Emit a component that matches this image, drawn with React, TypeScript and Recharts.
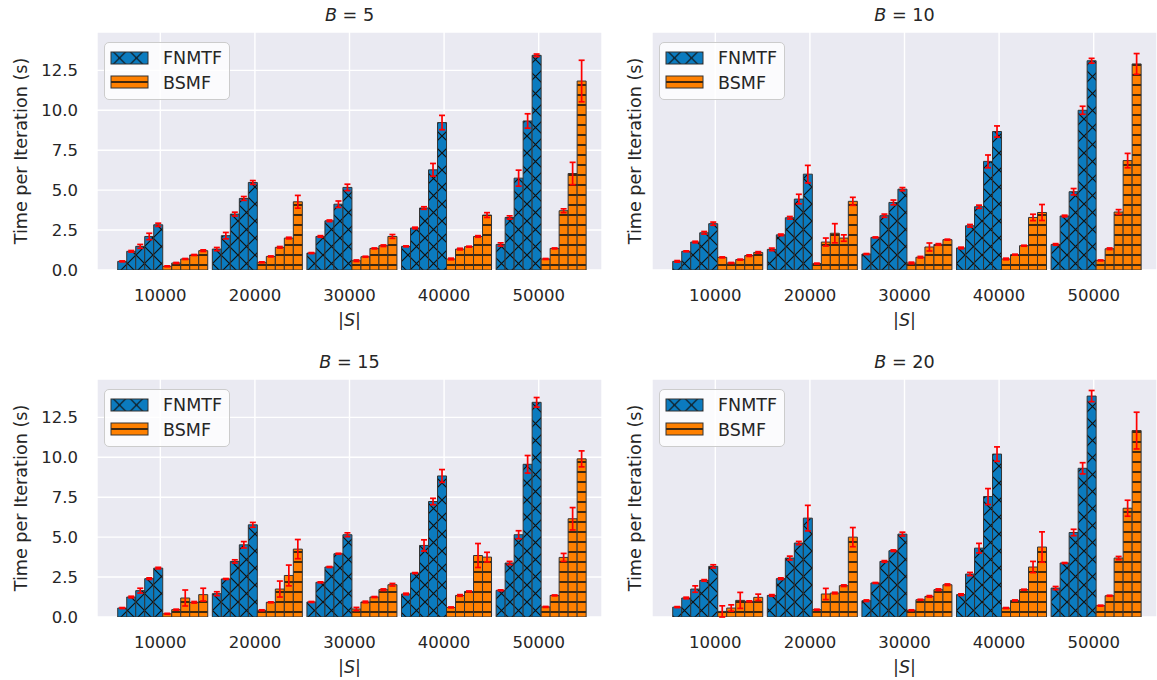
import React from "react";
import {
  BarChart,
  Bar,
  XAxis,
  YAxis,
  CartesianGrid,
  ErrorBar,
  Legend,
} from "recharts";

const FONT = "DejaVu Sans";
const INK = "#262626";
const BLUE = "#0b7bbf";
const ORANGE = "#ff8000";

const sizes = ["10000", "20000", "30000", "40000", "50000"];
const yTicks = [0, 2.5, 5, 7.5, 10, 12.5];

// one row per |S| group, five bars per method
const fnmtfB5 = [
  [0.54, 1.17, 1.48, 2.1, 2.83],
  [1.31, 2.15, 3.5, 4.48, 5.48],
  [1.06, 2.1, 3.08, 4.12, 5.17],
  [1.48, 2.63, 3.88, 6.27, 9.23],
  [1.6, 3.29, 5.75, 9.33, 13.44],
];
const fnmtfErrB5 = [
  [0.03, 0.05, 0.12, 0.2, 0.1],
  [0.1, 0.2, 0.12, 0.12, 0.12],
  [0.03, 0.05, 0.05, 0.2, 0.2],
  [0.03, 0.05, 0.08, 0.4, 0.45],
  [0.1, 0.1, 0.5, 0.45, 0.08],
];
const bsmfB5 = [
  [0.23, 0.44, 0.69, 0.94, 1.21],
  [0.48, 0.85, 1.42, 2.0, 4.27],
  [0.58, 0.83, 1.35, 1.52, 2.1],
  [0.69, 1.31, 1.46, 2.1, 3.44],
  [0.69, 1.35, 3.71, 6.04, 11.83],
];
const bsmfErrB5 = [
  [0.03, 0.03, 0.03, 0.03, 0.05],
  [0.03, 0.03, 0.05, 0.05, 0.4],
  [0.05, 0.03, 0.03, 0.05, 0.12],
  [0.05, 0.05, 0.03, 0.05, 0.15],
  [0.03, 0.03, 0.12, 0.7, 1.3],
];

const fnmtfB10 = [
  [0.54, 1.17, 1.75, 2.33, 2.9],
  [1.29, 2.2, 3.27, 4.44, 6.0],
  [1.0, 2.04, 3.4, 4.23, 5.06],
  [1.38, 2.77, 3.96, 6.8, 8.67],
  [1.6, 3.38, 4.9, 10.0, 13.1],
];
const fnmtfErrB10 = [
  [0.05, 0.03, 0.05, 0.08, 0.1],
  [0.08, 0.05, 0.08, 0.3, 0.55],
  [0.03, 0.03, 0.1, 0.15, 0.1],
  [0.05, 0.08, 0.1, 0.4, 0.35],
  [0.05, 0.05, 0.2, 0.25, 0.15],
];
const bsmfB10 = [
  [0.79, 0.44, 0.65, 0.9, 1.1],
  [0.4, 1.75, 2.3, 2.0, 4.3],
  [0.44, 0.8, 1.44, 1.6, 1.9],
  [0.69, 0.96, 1.52, 3.29, 3.6],
  [0.6, 1.33, 3.63, 6.85, 12.9],
];
const bsmfErrB10 = [
  [0.03, 0.03, 0.03, 0.05, 0.05],
  [0.03, 0.25, 0.6, 0.2, 0.25],
  [0.05, 0.05, 0.25, 0.05, 0.03],
  [0.05, 0.03, 0.03, 0.2, 0.5],
  [0.03, 0.05, 0.15, 0.45, 0.65],
];

const fnmtfB15 = [
  [0.56, 1.25, 1.65, 2.4, 3.06],
  [1.46, 2.38, 3.48, 4.52, 5.77],
  [0.94, 2.17, 3.13, 3.96, 5.15],
  [1.44, 2.75, 4.48, 7.23, 8.83],
  [1.67, 3.38, 5.15, 9.56, 13.44],
];
const fnmtfErrB15 = [
  [0.03, 0.05, 0.15, 0.05, 0.05],
  [0.12, 0.03, 0.1, 0.2, 0.15],
  [0.03, 0.03, 0.03, 0.03, 0.12],
  [0.05, 0.03, 0.35, 0.2, 0.4],
  [0.03, 0.1, 0.25, 0.55, 0.3],
];
const bsmfB15 = [
  [0.2, 0.46, 1.19, 0.92, 1.4],
  [0.42, 0.92, 1.75, 2.6, 4.25],
  [0.5, 0.94, 1.25, 1.71, 2.02],
  [0.6, 1.35, 1.6, 3.85, 3.75],
  [0.63, 1.35, 3.73, 6.15, 9.9],
];
const bsmfErrB15 = [
  [0.03, 0.03, 0.5, 0.05, 0.4],
  [0.03, 0.03, 0.5, 0.65, 0.6],
  [0.1, 0.05, 0.03, 0.05, 0.08],
  [0.03, 0.05, 0.03, 0.75, 0.3],
  [0.03, 0.03, 0.25, 0.7, 0.5],
];

const fnmtfB20 = [
  [0.62, 1.19, 1.75, 2.29, 3.17],
  [1.35, 2.4, 3.69, 4.63, 6.19],
  [1.02, 2.13, 3.48, 4.15, 5.19],
  [1.4, 2.69, 4.31, 7.54, 10.2],
  [1.81, 3.38, 5.29, 9.31, 13.83],
];
const fnmtfErrB20 = [
  [0.03, 0.05, 0.2, 0.05, 0.1],
  [0.05, 0.05, 0.12, 0.1, 0.8],
  [0.05, 0.03, 0.05, 0.05, 0.12],
  [0.05, 0.1, 0.3, 0.5, 0.45],
  [0.1, 0.03, 0.2, 0.35, 0.35],
];
const bsmfB20 = [
  [0.35, 0.56, 1.04, 0.98, 1.23],
  [0.46, 1.44, 1.5, 1.96, 5.0],
  [0.42, 1.08, 1.29, 1.71, 2.02],
  [0.56, 1.04, 1.71, 3.13, 4.38],
  [0.71, 1.33, 3.69, 6.81, 11.67],
];
const bsmfErrB20 = [
  [0.35, 0.2, 0.5, 0.03, 0.2],
  [0.03, 0.35, 0.05, 0.05, 0.6],
  [0.03, 0.03, 0.05, 0.05, 0.05],
  [0.03, 0.03, 0.03, 0.35, 0.95],
  [0.03, 0.03, 0.1, 0.5, 1.15],
];

const bars = [0, 1, 2, 3, 4];

function buildRows(fn: number[][], fnErr: number[][], bs: number[][], bsErr: number[][]) {
  return sizes.map((size, g) => {
    const row: Record<string, number | string> = { size };
    bars.forEach((k) => {
      row[`f${k}`] = fn[g][k];
      row[`fe${k}`] = fnErr[g][k];
      row[`b${k}`] = bs[g][k];
      row[`be${k}`] = bsErr[g][k];
    });
    return row;
  });
}

function HatchDefs() {
  return (
    <svg width={0} height={0} style={{ position: "absolute" }}>
      <defs>
        <pattern id="hatch-x" patternUnits="userSpaceOnUse" width={17} height={17}>
          <rect width={17} height={17} fill={BLUE} />
          <path d="M0,0 L17,17 M17,0 L0,17 M-2,15 L2,19 M15,-2 L19,2" stroke="#111" strokeWidth={1.2} />
        </pattern>
        <pattern id="hatch-h" patternUnits="userSpaceOnUse" width={10} height={10}>
          <rect width={10} height={10} fill={ORANGE} />
          <path d="M0,5 L10,5" stroke="#111" strokeWidth={1.6} />
        </pattern>
      </defs>
    </svg>
  );
}

function LegendBox() {
  return (
    <div
      style={{
        width: 126,
        height: 58,
        boxSizing: "border-box",
        background: "rgba(255,255,255,0.8)",
        border: "1px solid #cccccc",
        borderRadius: 5,
        position: "relative",
      }}
    >
      <svg width={126} height={58} style={{ position: "absolute", left: -1, top: -1 }}>
        <g transform="translate(7,7.5)">
          <rect x={0} y={2.5} width={37} height={12} fill="url(#hatch-x)" stroke="#333" strokeWidth={1} />
        </g>
        <g transform="translate(7,35)">
          <rect x={0} y={-1} width={37} height={12} fill="url(#hatch-h)" stroke="#333" strokeWidth={1} />
        </g>
        <text x={59} y={16} dominantBaseline="central" fontFamily={FONT} fontSize={17.5} fill={INK}>
          FNMTF
        </text>
        <text x={59} y={41} dominantBaseline="central" fontFamily={FONT} fontSize={17.5} fill={INK}>
          BSMF
        </text>
      </svg>
    </div>
  );
}

const yTitle = (dx: number) => (props: any) => {
  const vb = props.viewBox;
  const cx = vb.x + dx;
  const cy = vb.y + vb.height / 2;
  return (
    <text
      x={cx}
      y={cy}
      transform={`rotate(-90 ${cx} ${cy})`}
      textAnchor="middle"
      dominantBaseline="central"
      fontFamily={FONT}
      fontSize={17.6}
      fill={INK}
    >
      Time per Iteration (s)
    </text>
  );
};

const xTitle = (props: any) => {
  const vb = props.viewBox;
  return (
    <text
      x={vb.x + vb.width / 2}
      y={vb.y + 50}
      textAnchor="middle"
      dominantBaseline="central"
      fontFamily={FONT}
      fontSize={17.6}
      fill={INK}
    >
      |<tspan fontStyle="italic">S</tspan>|
    </text>
  );
};

interface PanelProps {
  b: number;
  rows: Record<string, number | string>[];
  left: number;
  top: number;
  isLeft: boolean;
  isTop: boolean;
}

function Panel({ b, rows, left, top, isLeft, isTop }: PanelProps) {
  const width = isLeft ? 612 : 600;
  const height = isTop ? 345 : 333;
  const yWidth = isLeft ? 97 : 95;
  const plotLeft = left + yWidth;
  return (
    <>
      <div
        style={{
          position: "absolute",
          left: plotLeft,
          top: top + 32 - 28,
          width: 505,
          height: 22,
          lineHeight: "22px",
          textAlign: "center",
          fontFamily: FONT,
          fontSize: 17.6,
          color: INK,
        }}
      >
        <span style={{ fontStyle: "italic" }}>B</span> = {b}
      </div>
      <div style={{ position: "absolute", left, top }}>
        <BarChart
          width={width}
          height={height}
          data={rows}
          margin={{ top: 32, right: isLeft ? 10 : 0, left: 0, bottom: 0 }}
          barGap={0}
          barCategoryGap="5%"
        >
          <CartesianGrid fill="#eaeaf2" fillOpacity={1} stroke="#ffffff" strokeWidth={1.4} />
          <XAxis
            dataKey="size"
            height={isTop ? 75 : 63}
            padding={{ left: 16, right: 16 }}
            axisLine={false}
            tickLine={false}
            tickSize={0}
            tickMargin={19}
            interval={0}
            tick={{ fontFamily: FONT, fontSize: 16.5, fill: INK }}
            label={{ content: xTitle }}
          />
          <YAxis
            type="number"
            width={yWidth}
            domain={[0, 14.9]}
            ticks={yTicks}
            allowDataOverflow
            axisLine={false}
            tickLine={false}
            tickSize={0}
            tickMargin={19}
            tick={isLeft ? { fontFamily: FONT, fontSize: 16.5, fill: INK } : false}
            tickFormatter={(v: number) => v.toFixed(1)}
            label={{ content: yTitle(isLeft ? 21 : 78) }}
          />
          <Legend
            layout="vertical"
            align="center"
            verticalAlign="middle"
            content={() => <LegendBox />}
            wrapperStyle={{ left: yWidth + 7, top: 42, width: 126, height: 58 }}
          />
          {bars.map((k) => (
            <Bar
              key={`f${k}`}
              dataKey={`f${k}`}
              name="FNMTF"
              fill="url(#hatch-x)"
              stroke="#333"
              strokeWidth={1}
              isAnimationActive={false}
            >
              <ErrorBar dataKey={`fe${k}`} width={3} stroke="#ff0000" strokeWidth={1.7} direction="y" />
            </Bar>
          ))}
          {bars.map((k) => (
            <Bar
              key={`b${k}`}
              dataKey={`b${k}`}
              name="BSMF"
              fill="url(#hatch-h)"
              stroke="#333"
              strokeWidth={1}
              isAnimationActive={false}
            >
              <ErrorBar dataKey={`be${k}`} width={3} stroke="#ff0000" strokeWidth={1.7} direction="y" />
            </Bar>
          ))}
        </BarChart>
      </div>
    </>
  );
}

export default function App() {
  return (
    <div
      style={{
        position: "absolute",
        left: 0,
        top: 0,
        width: 1157,
        height: 680,
        background: "#ffffff",
        overflow: "hidden",
      }}
    >
      <HatchDefs />
      <Panel b={5} rows={buildRows(fnmtfB5, fnmtfErrB5, bsmfB5, bsmfErrB5)} left={0} top={0} isLeft isTop />
      <Panel b={10} rows={buildRows(fnmtfB10, fnmtfErrB10, bsmfB10, bsmfErrB10)} left={557} top={0} isLeft={false} isTop />
      <Panel b={15} rows={buildRows(fnmtfB15, fnmtfErrB15, bsmfB15, bsmfErrB15)} left={0} top={347} isLeft isTop={false} />
      <Panel b={20} rows={buildRows(fnmtfB20, fnmtfErrB20, bsmfB20, bsmfErrB20)} left={557} top={347} isLeft={false} isTop={false} />
    </div>
  );
}
